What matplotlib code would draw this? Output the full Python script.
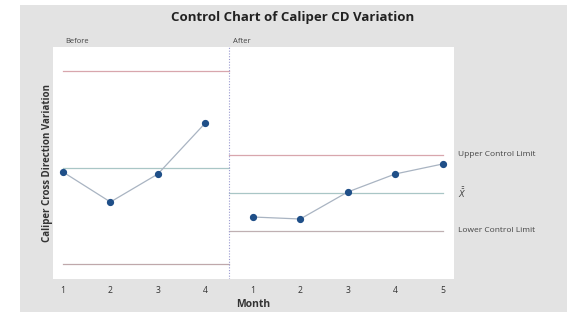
import matplotlib
matplotlib.use("Agg")
import matplotlib.pyplot as plt
from matplotlib.patches import Rectangle

# Data
before_months = [1, 2, 3, 4]
before_values = [10.7, 7.7, 10.5, 15.6]
before_center = 11.1
before_ucl = 20.8
before_lcl = 1.5

after_months = [1, 2, 3, 4, 5]
after_values = [6.2, 6.0, 8.7, 10.5, 11.5]
after_center = 8.6
after_ucl = 12.4
after_lcl = 4.8

stage_labels = ["Before", "After"]
limit_labels = ["Upper Control Limit", "$\\bar{\\bar{X}}$", "Lower Control Limit"]

plt.rcParams['font.family'] = ['Open Sans', 'DejaVu Sans']

fig = plt.figure(figsize=(5.7, 3.13), dpi=100)
fig.patch.set_facecolor('white')
fig.patches.append(Rectangle((20/570, 1 - 312/313), 547/570, 307/313,
                             transform=fig.transFigure, facecolor='#e3e3e3',
                             edgecolor='none', zorder=-10))

ax = fig.add_axes([53/570, 1 - 279/313, 401/570, 232/313])
ax.set_facecolor('white')

nb = len(before_months)
xb = list(range(nb))
xa = list(range(nb, nb + len(after_months)))
split = nb - 0.5

limit_col = '#d8a6ad'
center_col = '#a9c6c6'
line_col = '#a9b4c2'
pt_col = '#1f4f88'

# limits
ax.plot([xb[0], split], [before_ucl] * 2, color=limit_col, lw=0.9)
ax.plot([xb[0], split], [before_lcl] * 2, color='#bfa8ab', lw=0.9)
ax.plot([xb[0], split], [before_center] * 2, color=center_col, lw=0.9)
ax.plot([split, xa[-1]], [after_ucl] * 2, color=limit_col, lw=0.9)
ax.plot([split, xa[-1]], [after_lcl] * 2, color='#bfb0b2', lw=0.9)
ax.plot([split, xa[-1]], [after_center] * 2, color=center_col, lw=0.9)

ax.axvline(split, color='#9a9ad0', lw=0.8, ls=(0, (1, 1.5)))

ax.plot(xb, before_values, color=line_col, lw=0.9, marker='o', ms=4.2,
        mfc=pt_col, mec=pt_col, zorder=5)
ax.plot(xa, after_values, color=line_col, lw=0.9, marker='o', ms=4.2,
        mfc=pt_col, mec=pt_col, zorder=5)

ax.set_xlim(-0.21, 8.24)
ax.set_ylim(0, 23.2)
ax.set_xticks(xb + xa)
ax.set_xticklabels([str(m) for m in before_months + after_months], fontsize=6.2, color='#333333')
ax.set_yticks([])
ax.tick_params(axis='x', length=0, pad=5)
for s in ax.spines.values():
    s.set_visible(False)

ax.set_xlabel("Month", fontsize=7.5, fontweight='bold', color='#333333', labelpad=3)
ax.set_ylabel("Caliper Cross Direction Variation", fontsize=7, fontweight='bold',
              color='#333333', labelpad=0)

# stage labels
ax.text(xb[0] + 0.05, 1.01, stage_labels[0], transform=ax.get_xaxis_transform(),
        fontsize=5.5, color='#444444', va='bottom', ha='left')
ax.text(split + 0.08, 1.01, stage_labels[1], transform=ax.get_xaxis_transform(),
        fontsize=5.5, color='#444444', va='bottom', ha='left')

# right-side limit labels
for val, lab in zip([after_ucl, after_center, after_lcl], limit_labels):
    ax.annotate(lab, xy=(1, val), xycoords=('axes fraction', 'data'),
                xytext=(3, 0), textcoords='offset points', fontsize=6,
                color='#444444', va='center', ha='left', annotation_clip=False)

fig.text(293/570, 1 - 18/313, "Control Chart of Caliper CD Variation", fontsize=9.5,
         fontweight='bold', color='#222222', ha='center', va='center')

fig.savefig("out.png", dpi=100)
